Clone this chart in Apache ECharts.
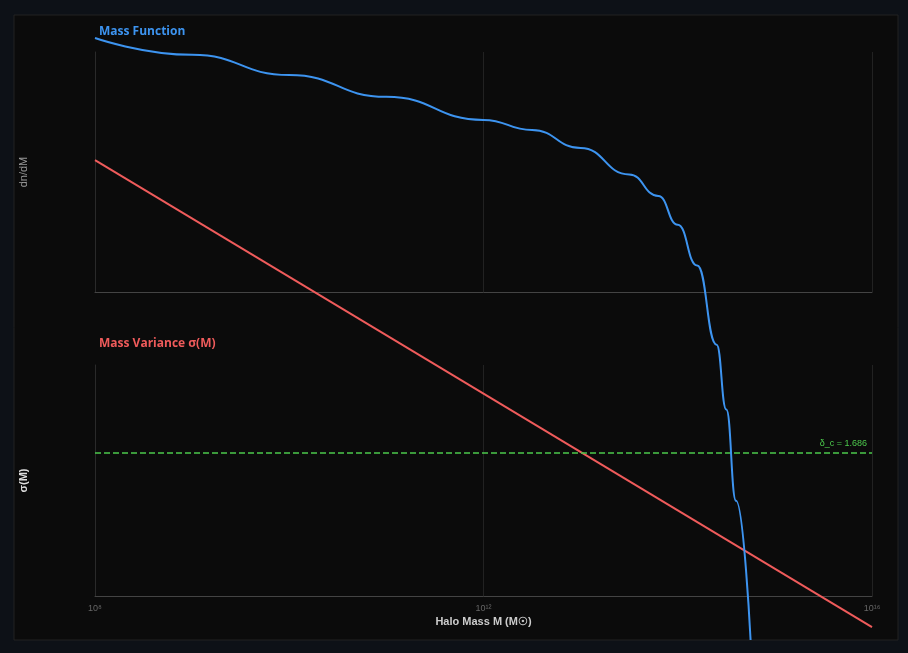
<!DOCTYPE html><html><head><meta charset="utf-8">
<script src="https://cdn.jsdelivr.net/npm/echarts@6/dist/echarts.min.js"></script>
<style>html,body{margin:0;background:#0d1117;}#c{width:908px;height:653px;}</style></head><body><div id="c"></div>
<script>
const logMass = [8, 9, 10, 11, 12, 12.5, 13, 13.5, 13.8, 14, 14.2, 14.4, 14.5, 14.6, 14.75];
const dndM = [105.8, 98.8, 90.4, 81.3, 71.7, 67.5, 60, 49, 40, 28, 11, -22, -49, -87, -145];
const sigmaMass = [8, 16];
const sigmaVals = [5.14, -0.366];
const deltaC = 1.686;
const xTicks = [8, 12, 16];
const chart = echarts.init(document.getElementById('c'));
const sup = {8:'⁸',12:'¹²',16:'¹⁶'};
// top-panel units (0..100 over 240px, bottom at 292px) expressed in sigma units of overlay grid
const toSigma = u => (596 - (292 - 2.4*u)) / 84.8;
const xAxisBase = {type:'value',min:8,max:16,interval:4,
  axisLine:{lineStyle:{color:'#444'}},axisTick:{show:false},
  splitLine:{lineStyle:{color:'#222'}}};
const yBase = {type:'value',axisLabel:{show:false},axisTick:{show:false},splitLine:{show:false},
  axisLine:{show:true,lineStyle:{color:'#2a2a2a'}},nameLocation:'middle',nameGap:66,nameTextStyle:{color:'#999',fontSize:11}};
chart.setOption({
  backgroundColor:'#0d1117',
  graphic:[{type:'rect',shape:{x:14,y:15,width:884,height:625},style:{fill:'#0b0b0b',stroke:'#222'}}],
  title:[{text:'Mass Function',left:94,top:21,textStyle:{color:'#3d94f0',fontSize:12,fontWeight:'bold',fontFamily:'Open Sans'}},
         {text:'Mass Variance σ(M)',left:94,top:333,textStyle:{color:'#ef5b5b',fontSize:12,fontWeight:'bold',fontFamily:'Open Sans'}}],
  grid:[{left:95,right:36,top:52,height:240},{left:95,right:36,top:365,height:231},{left:95,right:36,top:0,height:653}],
  xAxis:[Object.assign({gridIndex:0,axisLabel:{show:false}},xAxisBase),
    Object.assign({gridIndex:1,name:'Halo Mass M (M☉)',nameLocation:'middle',nameGap:20,
      nameTextStyle:{color:'#ccc',fontSize:11,fontWeight:'bold'},
      axisLabel:{color:'#666',fontSize:9,formatter:v=>'10'+(sup[v]||'')}},xAxisBase),
    {gridIndex:2,type:'value',min:8,max:16,show:false}],
  yAxis:[Object.assign({},yBase,{gridIndex:0,min:0,max:100,name:'dn/dM'}),
    Object.assign({},yBase,{gridIndex:1,min:0,max:2.724,name:'σ(M)',nameTextStyle:{color:'#ddd',fontSize:11,fontWeight:'bold'}}),
    {gridIndex:2,type:'value',min:-0.672,max:7.028,show:false}],
  series:[
    {type:'line',xAxisIndex:2,yAxisIndex:2,smooth:0.5,smoothMonotone:'x',showSymbol:false,z:5,
      lineStyle:{color:'#3d94f0',width:2},data:logMass.map((m,i)=>[m,toSigma(dndM[i])])},
    {type:'line',xAxisIndex:2,yAxisIndex:2,showSymbol:false,
      lineStyle:{color:'#ef5b5b',width:2},data:sigmaMass.map((m,i)=>[m,sigmaVals[i]])},
    {type:'line',xAxisIndex:1,yAxisIndex:1,data:[],
      markLine:{symbol:'none',silent:true,lineStyle:{color:'#4cc94c',type:'dashed',width:1.5},
        label:{position:'insideEndTop',formatter:'δ_c = '+deltaC,color:'#4cc94c',fontSize:9},
        data:[{yAxis:deltaC}]}}
  ]
});
</script></body></html>
